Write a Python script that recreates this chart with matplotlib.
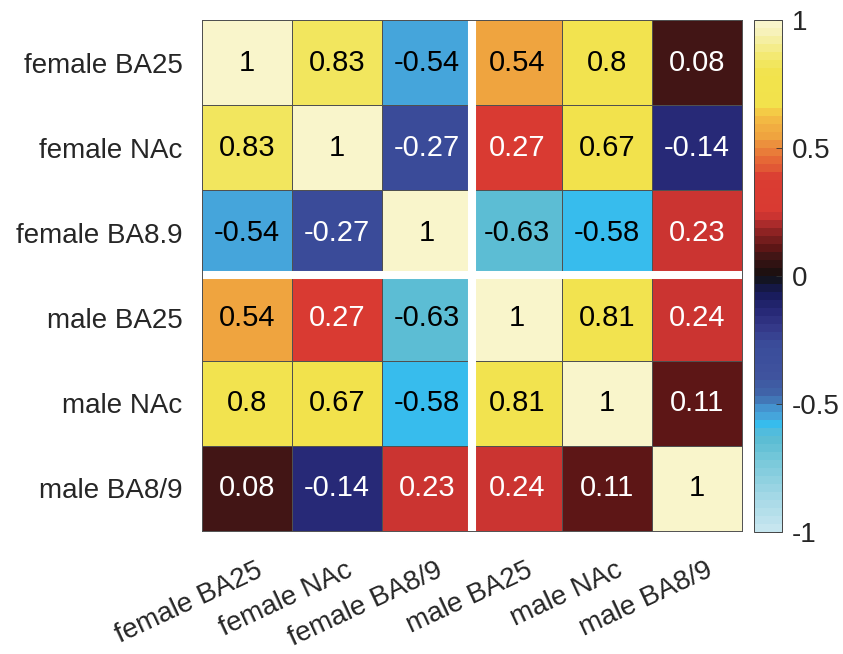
import numpy as np
import matplotlib
matplotlib.use('Agg')
import matplotlib.pyplot as plt
import matplotlib.transforms as mtransforms
from matplotlib.colors import LinearSegmentedColormap, ListedColormap

plt.rcParams['font.family'] = ['Liberation Sans', 'DejaVu Sans']

# 区域名称
labels_y = ['female BA25', 'female NAc', 'female BA8.9', 'male BA25', 'male NAc', 'male BA8/9']
labels_x = ['female BA25', 'female NAc', 'female BA8/9', 'male BA25', 'male NAc', 'male BA8/9']

# 相关系数矩阵
row_f_ba25 = [1, 0.83, -0.54, 0.54, 0.8, 0.08]
row_f_nac = [0.83, 1, -0.27, 0.27, 0.67, -0.14]
row_f_ba89 = [-0.54, -0.27, 1, -0.63, -0.58, 0.23]
row_m_ba25 = [0.54, 0.27, -0.63, 1, 0.81, 0.24]
row_m_nac = [0.8, 0.67, -0.58, 0.81, 1, 0.11]
row_m_ba89 = [0.08, -0.14, 0.23, 0.24, 0.11, 1]
corr = np.array([row_f_ba25, row_f_nac, row_f_ba89, row_m_ba25, row_m_nac, row_m_ba89])

# 64 级色图的关键级别 (0 -> -1, 63 -> 1)
n_levels = 64
level_colors = [
    (0, '#c6e6ef'),
    (4, '#a3d8e6'),
    (8, '#7ccadb'),
    (11, '#5cbdd4'),
    (12, '#52bcdc'),
    (13, '#36bdee'),
    (14, '#45a6dc'),
    (15, '#4495d0'),
    (16, '#4278b8'),
    (17, '#4064a8'),
    (19, '#3f539e'),
    (23, '#3a4c9a'),
    (25, '#353a8a'),
    (27, '#282a78'),
    (29, '#1a1d60'),
    (30, '#15184a'),
    (31, '#121424'),
    (32, '#1c1010'),
    (33, '#2e1212'),
    (34, '#3e1515'),
    (35, '#5a1515'),
    (36, '#701c1c'),
    (37, '#8a2222'),
    (38, '#a62a2a'),
    (39, '#c93331'),
    (40, '#d93a32'),
    (44, '#da3c32'),
    (45, '#e05535'),
    (46, '#e56535'),
    (47, '#e87838'),
    (48, '#eb8c3c'),
    (49, '#efa23f'),
    (50, '#f1ab41'),
    (51, '#f3b642'),
    (52, '#f5c545'),
    (53, '#f2e24c'),
    (57, '#f2e34c'),
    (58, '#f2e55a'),
    (59, '#f3e86c'),
    (60, '#f4eb84'),
    (61, '#f5ee9c'),
    (62, '#f7f1b4'),
    (63, '#f9f5cb'),
]
# 级别中心插值, 端点补齐
base = LinearSegmentedColormap.from_list(
    'base', [(0.0, level_colors[0][1])]
    + [((lv + 0.5) / n_levels, c) for lv, c in level_colors]
    + [(1.0, level_colors[-1][1])])
cmap = ListedColormap(base((np.arange(n_levels) + 0.5) / n_levels))

fig = plt.figure(figsize=(8.43, 6.54), dpi=100)
ax = fig.add_axes([0.2396, 0.1881, 0.6406, 0.7813])
n = corr.shape[0]
mesh = ax.pcolormesh(np.arange(n + 1), np.arange(n + 1), corr, cmap=cmap,
                     vmin=-1, vmax=1, edgecolors='#505050', linewidth=0.6)
ax.set_xlim(0, n)
ax.set_ylim(n, 0)

# 男女分隔线
ax.axvline(3, color='white', lw=5.8)
ax.axhline(3, color='white', lw=5.8)

for i in range(n):
    for j in range(n):
        v = corr[i, j]
        c = 'white' if abs(v) < 0.4 else 'black'
        ax.text(j + 0.5, i + 0.5, '%g' % v, ha='center', va='center',
                fontsize=21, color=c)

ax.set_xticks(np.arange(n) + 0.5)
ax.set_yticks(np.arange(n) + 0.5)
ax.set_xticklabels(labels_x, rotation=25, ha='right', va='top',
                   rotation_mode='anchor', fontsize=20, color='#262626')
ax.set_yticklabels(labels_y, fontsize=20, color='#262626')
ax.tick_params(length=0)
ax.tick_params(axis='x', pad=19)
ax.tick_params(axis='y', pad=14)
shift = mtransforms.ScaledTranslation(9 / 100, 0, fig.dpi_scale_trans)
for lab in ax.get_xticklabels():
    lab.set_transform(lab.get_transform() + shift)
for s in ax.spines.values():
    s.set_color('#505050')
    s.set_linewidth(0.7)

cax = fig.add_axes([0.8944, 0.1865, 0.0332, 0.7829])
cb = fig.colorbar(mesh, cax=cax, ticks=[-1, -0.5, 0, 0.5, 1])
cb.ax.set_yticklabels(['-1', '-0.5', '0', '0.5', '1'])
cb.ax.tick_params(direction='in', length=4, width=0.6, labelsize=20,
                  color='#333333', labelcolor='#262626', pad=7)
cb.outline.set_edgecolor('#444444')
cb.outline.set_linewidth(0.7)

fig.savefig('out.png', dpi=100)
